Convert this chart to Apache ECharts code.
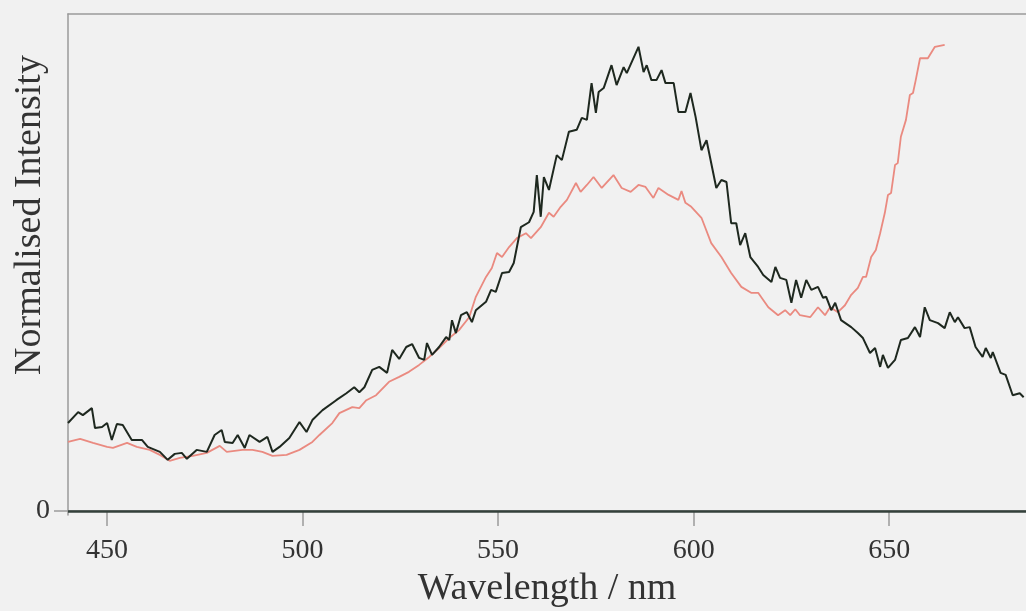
<!DOCTYPE html>
<html>
<head>
<meta charset="utf-8">
<title>spectrum</title>
<script src="https://cdn.jsdelivr.net/npm/echarts@6/dist/echarts.min.js"></script>
<style>
  html,body{margin:0;padding:0;background:#f1f1f1;}
  #chart{width:1026px;height:611px;}
</style>
</head>
<body>
<div id="chart"></div>
<script>
// black spectrum (wavelength nm / normalised value)
var blackNm=[440.0,442.6,443.8,446.1,446.9,448.7,450.0,451.2,452.5,454.0,456.3,458.9,460.4,463.5,465.5,467.3,469.1,470.4,472.9,475.5,
  477.5,479.3,480.1,482.1,483.4,485.2,486.4,489.0,491.0,492.3,494.1,496.6,499.2,501.0,502.5,505.1,508.6,511.2,513.2,514.5,
  515.8,517.8,519.6,521.6,522.9,524.7,526.5,528.0,529.8,531.1,531.8,533.1,534.9,536.7,537.5,538.2,539.2,540.5,542.0,543.3,
  544.3,546.9,548.2,549.4,551.0,552.8,554.0,555.8,557.9,559.1,559.9,560.9,561.7,563.0,565.0,566.3,568.1,570.1,571.4,572.7,
  573.9,575.0,575.7,577.0,579.0,580.3,582.1,582.9,585.9,587.2,588.0,589.2,590.5,591.8,592.8,594.9,596.1,597.9,599.2,600.5,
  602.0,603.3,605.8,607.1,608.4,609.6,610.9,611.9,613.2,614.5,616.5,617.8,619.9,620.9,622.1,623.7,625.0,626.2,627.5,628.8,
  630.1,631.8,633.1,633.9,635.2,636.2,637.7,640.3,642.0,643.3,645.1,646.4,647.7,648.4,649.7,651.5,653.0,654.8,656.6,657.9,
  659.1,660.4,662.5,664.2,665.5,666.8,667.6,669.3,670.6,672.1,673.9,674.7,676.0,676.5,678.5,679.8,681.6,683.4,684.4];
var blackVal=[0.177,0.199,0.193,0.207,0.167,0.169,0.177,0.143,0.175,0.173,0.143,0.143,0.129,0.119,0.103,0.115,0.117,0.105,0.123,0.119,
  0.153,0.163,0.139,0.137,0.153,0.127,0.153,0.139,0.149,0.119,0.129,0.147,0.179,0.159,0.183,0.203,0.223,0.237,0.249,0.239,
  0.249,0.284,0.290,0.278,0.324,0.306,0.330,0.336,0.308,0.304,0.338,0.314,0.330,0.350,0.344,0.384,0.358,0.394,0.400,0.380,
  0.404,0.421,0.445,0.441,0.479,0.481,0.499,0.571,0.581,0.602,0.676,0.592,0.672,0.646,0.716,0.706,0.763,0.767,0.791,0.787,
  0.861,0.801,0.843,0.851,0.897,0.857,0.893,0.881,0.934,0.883,0.897,0.867,0.867,0.887,0.861,0.861,0.803,0.803,0.841,0.793,
  0.726,0.746,0.650,0.666,0.662,0.579,0.579,0.535,0.559,0.511,0.491,0.475,0.461,0.491,0.469,0.465,0.419,0.465,0.429,0.465,
  0.445,0.451,0.429,0.431,0.404,0.419,0.384,0.370,0.358,0.348,0.318,0.328,0.290,0.314,0.288,0.304,0.344,0.348,0.370,0.350,
  0.410,0.384,0.378,0.368,0.400,0.380,0.390,0.368,0.370,0.330,0.310,0.328,0.308,0.320,0.278,0.274,0.233,0.237,0.229];

// red spectrum
var redNm=[440.0,443.1,446.4,450.0,451.5,455.1,457.6,460.9,463.5,466.0,468.6,471.9,475.5,478.8,480.6,484.6,487.2,489.7,492.3,495.9,
  499.2,502.5,504.3,507.6,509.4,512.7,514.5,516.3,518.8,522.1,524.7,527.2,529.8,532.4,534.9,537.5,540.0,542.6,544.3,546.9,
  548.4,549.7,551.0,552.8,554.8,557.1,558.4,560.9,563.0,564.2,566.0,567.6,569.9,571.1,572.7,574.4,576.5,579.5,581.6,583.9,
  585.9,587.7,589.7,591.0,593.6,596.1,596.9,597.9,599.4,602.0,604.5,607.1,609.6,612.2,614.7,616.5,619.1,621.6,623.4,624.7,
  626.0,627.2,629.8,631.8,633.6,634.9,636.9,638.7,640.3,642.0,643.3,644.1,645.4,646.6,647.7,648.9,649.7,650.5,651.5,652.2,
  653.0,654.3,655.3,656.1,656.8,657.9,659.9,661.7,664.2];
var redVal=[0.139,0.145,0.137,0.129,0.127,0.137,0.129,0.123,0.113,0.101,0.107,0.111,0.117,0.131,0.119,0.123,0.123,0.119,0.111,0.113,
  0.123,0.139,0.153,0.177,0.197,0.209,0.207,0.223,0.233,0.260,0.270,0.280,0.294,0.310,0.328,0.348,0.364,0.390,0.431,0.471,
  0.489,0.519,0.511,0.531,0.549,0.559,0.549,0.571,0.600,0.592,0.612,0.626,0.660,0.642,0.656,0.672,0.650,0.676,0.650,0.642,
  0.656,0.652,0.630,0.650,0.636,0.626,0.644,0.620,0.612,0.590,0.539,0.511,0.479,0.451,0.439,0.439,0.410,0.394,0.404,0.394,
  0.406,0.394,0.390,0.410,0.394,0.410,0.400,0.414,0.435,0.449,0.471,0.471,0.511,0.525,0.559,0.600,0.636,0.640,0.696,0.700,
  0.753,0.787,0.837,0.841,0.867,0.911,0.911,0.934,0.938];

var xTicks=[450,500,550,600,650];

var toPairs=function(xs,ys){
  var out=[];
  xs.forEach(function(x,i){ out.push([x,ys[i]]); });
  return out;
}

var font='"Liberation Serif","DejaVu Serif",serif';
var chart=echarts.init(document.getElementById("chart"));
chart.setOption({
  backgroundColor:'#f1f1f1',
  animation:false,
  grid:{left:68,right:0,top:14,bottom:96,outerBoundsMode:'none'},
  xAxis:[
    {
      type:'value',
      min:440,
      max:685,
      name:'Wavelength / nm',
      nameLocation:'middle',
      nameGap:51,
      nameTextStyle:{fontFamily:font,fontSize:38,color:'#333'},
      axisLine:{show:true,lineStyle:{color:'#9a9a9a',width:1.5}},
      axisTick:{show:true,length:15,customValues:xTicks,lineStyle:{color:'#9a9a9a',width:1.5}},
      axisLabel:{customValues:xTicks,margin:22,fontFamily:font,fontSize:28,color:'#333'},
      splitLine:{show:false}
    },
    {
      // top frame line
      type:'value',
      position:'top',
      min:440,
      max:685,
      axisLine:{show:true,lineStyle:{color:'#9a9a9a',width:1.5}},
      axisTick:{show:false},
      axisLabel:{show:false},
      splitLine:{show:false}
    }
  ],
  yAxis:{
    type:'value',
    min:-0.008,
    max:1,
    axisLine:{show:true,lineStyle:{color:'#9a9a9a',width:1.5}},
    axisTick:{show:true,length:14,customValues:[0],lineStyle:{color:'#9a9a9a',width:1.5}},
    axisLabel:{customValues:[0],margin:18,fontFamily:font,fontSize:28,color:'#333'},
    splitLine:{show:false}
  },
  graphic:[
    {
      type:'text',
      x:30,
      y:215,
      rotation:Math.PI/2,
      style:{text:'Normalised Intensity',font:'38px '+font,fill:'#333',align:'center',verticalAlign:'middle'}
    }
  ],
  series:[
    {
      name:'red',
      type:'line',
      data:toPairs(redNm,redVal),
      showSymbol:false,
      lineStyle:{color:'#ea8a80',width:1.8},
      z:2
    },
    {
      name:'black',
      type:'line',
      data:toPairs(blackNm,blackVal),
      showSymbol:false,
      lineStyle:{color:'#1e281f',width:2},
      z:3,
      markLine:{
        silent:true,
        symbol:'none',
        label:{show:false},
        lineStyle:{color:'#34413b',width:2.5,type:'solid'},
        data:[{yAxis:0}]
      }
    }
  ]
});
</script>
</body>
</html>
